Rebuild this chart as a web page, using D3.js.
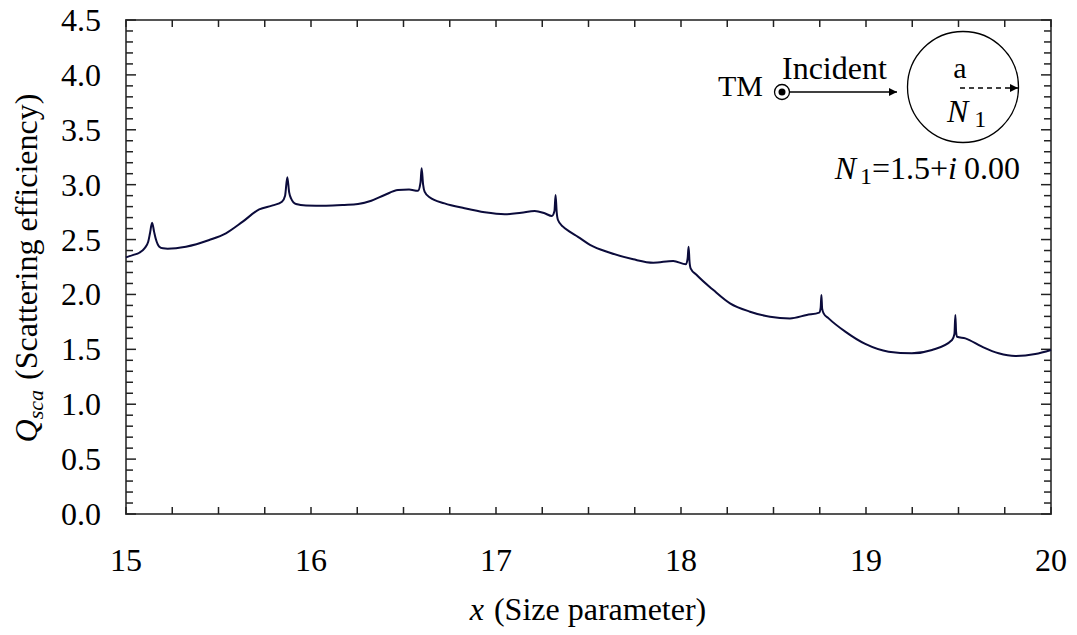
<!DOCTYPE html>
<html>
<head>
<meta charset="utf-8">
<script src="https://cdn.jsdelivr.net/npm/d3@7"></script>
<style>
  html, body { margin: 0; padding: 0; background: #fff; }
  svg { display: block; }
  svg text { font-family: 'Liberation Serif', 'Tinos', 'Nimbus Roman', 'FreeSerif', 'Noto Serif', 'DejaVu Serif', 'Times New Roman', Times, serif; fill: #000; }
</style>
</head>
<body>
<svg id="chart" width="1077" height="635"></svg>
<script>
// ---- data ----
const xValues = [15.000,15.040,15.072,15.100,15.120,15.130,15.141,15.152,15.162,15.180,15.200,15.225,15.324,15.450,15.540,15.631,15.720,15.793,15.843,15.860,15.872,15.882,15.892,15.919,15.973,16.081,16.180,16.254,16.326,16.398,16.470,16.530,16.578,16.592,16.598,16.606,16.614,16.641,16.722,16.830,16.939,17.047,17.137,17.209,17.263,17.302,17.316,17.322,17.328,17.335,17.362,17.400,17.443,17.508,17.616,17.742,17.850,17.958,18.027,18.036,18.041,18.046,18.052,18.085,18.175,18.265,18.373,18.481,18.589,18.680,18.747,18.755,18.759,18.763,18.771,18.798,18.888,18.996,19.122,19.248,19.357,19.465,19.478,19.483,19.487,19.492,19.537,19.627,19.717,19.807,19.915,20.000];
const qscaValues = [2.338,2.360,2.380,2.420,2.480,2.560,2.654,2.570,2.500,2.435,2.420,2.417,2.435,2.496,2.557,2.663,2.775,2.811,2.845,2.900,3.067,2.930,2.875,2.824,2.811,2.808,2.815,2.824,2.854,2.906,2.951,2.955,2.945,3.020,3.149,3.000,2.936,2.885,2.830,2.785,2.748,2.730,2.745,2.760,2.739,2.715,2.760,2.906,2.750,2.678,2.618,2.570,2.525,2.452,2.380,2.320,2.289,2.305,2.275,2.330,2.435,2.300,2.238,2.177,2.040,1.919,1.843,1.797,1.782,1.813,1.834,1.880,1.995,1.870,1.828,1.782,1.661,1.549,1.479,1.464,1.494,1.585,1.640,1.813,1.660,1.615,1.600,1.524,1.464,1.439,1.457,1.494];
const xMajorTicks = [15, 16, 17, 18, 19, 20];
const yMajorTicks = [0, 0.5, 1.0, 1.5, 2.0, 2.5, 3.0, 3.5, 4.0, 4.5];

// ---- layout ----
const L = 126, R = 1051, T = 20, B = 514;
const svg = d3.select("#chart");
const x = d3.scaleLinear().domain([15, 20]).range([L, R]);
const y = d3.scaleLinear().domain([0, 4.5]).range([B, T]);

const xMinor = d3.range(15, 20.001, 0.25);
const yMinor = d3.range(0, 4.5001, 0.1).map(v => +v.toFixed(2));
const isMajorY = v => Math.abs(v * 2 - Math.round(v * 2)) < 1e-6;

const tickColor = "#222";
const g = svg.append("g");
const txt = (sel) => sel.append("text");

// frame
g.append("rect").attr("x", L).attr("y", T).attr("width", R - L).attr("height", B - T)
  .attr("fill", "none").attr("stroke", "#555").attr("stroke-width", 2);

// x ticks (bottom and top, inward)
xMinor.forEach(v => {
  g.append("line").attr("x1", x(v)).attr("x2", x(v)).attr("y1", B).attr("y2", B - 7)
    .attr("stroke", tickColor).attr("stroke-width", 1.5);
  g.append("line").attr("x1", x(v)).attr("x2", x(v)).attr("y1", T).attr("y2", T + 7)
    .attr("stroke", tickColor).attr("stroke-width", 1.5);
});
// y ticks (left and right, inward)
yMinor.forEach(v => {
  const len = isMajorY(v) ? 10 : 7;
  g.append("line").attr("x1", L).attr("x2", L + len).attr("y1", y(v)).attr("y2", y(v))
    .attr("stroke", tickColor).attr("stroke-width", 1.5);
  g.append("line").attr("x1", R).attr("x2", R - len).attr("y1", y(v)).attr("y2", y(v))
    .attr("stroke", tickColor).attr("stroke-width", 1.5);
});

// tick labels
xMajorTicks.forEach(v => {
  txt(g).attr("x", x(v)).attr("y", 571).attr("text-anchor", "middle")
    .attr("font-size", 32).text(d3.format("d")(v));
});
yMajorTicks.forEach(v => {
  txt(g).attr("x", 101).attr("y", y(v) + 11).attr("text-anchor", "end")
    .attr("font-size", 32).text(d3.format(".1f")(v));
});

// axis titles
const xt = txt(g).attr("x", 588).attr("y", 620).attr("text-anchor", "middle").attr("font-size", 32);
xt.append("tspan").attr("font-style", "italic").text("x");
xt.append("tspan").attr("dx", 10).text("(Size parameter)");

const yt = txt(g).attr("transform", "rotate(-90)").attr("x", -268).attr("y", 37)
  .attr("text-anchor", "middle").attr("font-size", 32);
yt.append("tspan").attr("font-style", "italic").text("Q");
yt.append("tspan").attr("font-style", "italic").attr("font-size", 22).attr("dy", 6).text("sca");
yt.append("tspan").attr("dy", -6).attr("dx", 10).text("(Scattering efficiency)");

// curve
const pts = xValues.map((v, i) => [v, qscaValues[i]]);
const line = d3.line().x(d => x(d[0])).y(d => y(d[1])).curve(d3.curveMonotoneX);
g.append("path").attr("d", line(pts)).attr("fill", "none")
  .attr("stroke", "#0b0b3b").attr("stroke-width", 2).attr("stroke-linejoin", "round");

// ---- inset ----
const defs = svg.append("defs");
defs.append("marker").attr("id", "ah").attr("viewBox", "0 0 10 10").attr("refX", 10).attr("refY", 5)
  .attr("markerWidth", 12).attr("markerHeight", 8).attr("markerUnits", "userSpaceOnUse").attr("orient", "auto")
  .append("path").attr("d", "M0,0 L10,5 L0,10 Z").attr("fill", "#000");

txt(g).attr("x", 718).attr("y", 96).attr("font-size", 30).text("TM");
txt(g).attr("x", 782).attr("y", 79).attr("font-size", 32).text("Incident");
g.append("circle").attr("cx", 782).attr("cy", 92).attr("r", 7.5).attr("fill", "none")
  .attr("stroke", "#000").attr("stroke-width", 1.3);
g.append("circle").attr("cx", 782).attr("cy", 92).attr("r", 3.5).attr("fill", "#000");
g.append("line").attr("x1", 790).attr("x2", 897).attr("y1", 92).attr("y2", 92)
  .attr("stroke", "#000").attr("stroke-width", 1.3).attr("marker-end", "url(#ah)");

g.append("circle").attr("cx", 963).attr("cy", 87).attr("r", 55.5).attr("fill", "none")
  .attr("stroke", "#000").attr("stroke-width", 1.3);
txt(g).attr("x", 960).attr("y", 78).attr("text-anchor", "middle").attr("font-size", 30).text("a");
g.append("line").attr("x1", 960).attr("x2", 1018).attr("y1", 88).attr("y2", 88)
  .attr("stroke", "#000").attr("stroke-width", 1.3).attr("stroke-dasharray", "5,4").attr("marker-end", "url(#ah)");
const n1 = txt(g).attr("x", 947).attr("y", 122).attr("font-size", 32);
n1.append("tspan").attr("font-style", "italic").text("N");
n1.append("tspan").attr("dx", 6).attr("dy", 5).attr("font-size", 24).text("1");

const eq = txt(g).attr("x", 1020).attr("y", 179).attr("text-anchor", "end").attr("font-size", 32);
eq.append("tspan").attr("font-style", "italic").text("N");
eq.append("tspan").attr("dx", 4).attr("dy", 5).attr("font-size", 24).text("1");
eq.append("tspan").attr("dy", -5).text("=1.5+");
eq.append("tspan").attr("font-style", "italic").text("i");
eq.append("tspan").attr("dx", 7).text("0.00");
</script>
</body>
</html>
